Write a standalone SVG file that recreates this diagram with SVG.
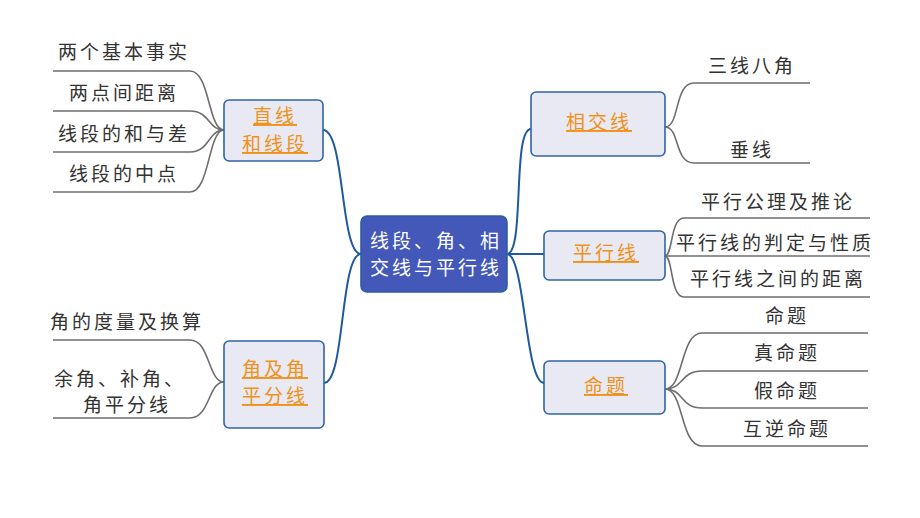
<svg xmlns="http://www.w3.org/2000/svg" width="920" height="518" viewBox="0 0 920 518">
<style>
text{font-family:"Noto Sans CJK SC","Noto Sans",sans-serif;font-size:19px;letter-spacing:3px;text-anchor:middle}
.leaf{fill:#333333}
.lk{fill:none;stroke:#6e6e6e;stroke-width:1.6}
.bl{fill:none;stroke:#1f5a9e;stroke-width:2}
.sub{fill:#e8e9f3;stroke:#2f64a8;stroke-width:1.6}
.subt{fill:#f0921a;text-decoration:underline}
.ctr{fill:#4358b8;stroke:#2c5fa0;stroke-width:1.6}
.ctrt{fill:#ffffff}
</style>
<rect width="920" height="518" fill="#ffffff"/>
<g id="connectors">
<path class="bl" d="M361,254 C340,254 345,130 323,130"/>
<path class="bl" d="M361,254 C340,254 345,383 324,383"/>
<path class="bl" d="M507,254 C525,254 512,129 531,129"/>
<path class="bl" d="M507,254 H544"/>
<path class="bl" d="M507,254 C525,254 525,383 544,383"/>
<path class="lk" d="M224,130 C208,130 210,71 190,71 H53"/>
<path class="lk" d="M224,130 C208,130 210,111 190,111 H53"/>
<path class="lk" d="M224,130 C208,130 210,152 190,152 H53"/>
<path class="lk" d="M224,130 C208,130 210,192 190,192 H53"/>
<path class="lk" d="M224,382 C208,382 210,340 190,340 H53"/>
<path class="lk" d="M224,382 C208,382 210,418 190,418 H53"/>
<path class="lk" d="M665,127 C680,127 674,83 694,83 H810"/>
<path class="lk" d="M665,127 C680,127 674,163 694,163 H810"/>
<path class="lk" d="M665,256 C673,256 670,218 684,218 H870"/>
<path class="lk" d="M665,256 H870"/>
<path class="lk" d="M665,256 C673,256 670,297 684,297 H870"/>
<path class="lk" d="M665,389 C684,389 680,333 702,333 H868"/>
<path class="lk" d="M665,389 C684,389 680,371 702,371 H868"/>
<path class="lk" d="M665,389 C684,389 680,408 702,408 H868"/>
<path class="lk" d="M665,389 C684,389 680,446 702,446 H868"/>
</g>
<g id="center">
<rect class="ctr" x="361" y="216" width="146" height="76" rx="6"/>
<text class="ctrt" x="436" y="248">线段、角、相</text>
<text class="ctrt" x="436" y="275">交线与平行线</text>
</g>
<g id="n-zhixian">
<rect class="sub" x="224" y="100" width="99" height="61" rx="5"/>
<text class="subt" x="275" y="123">直线</text>
<text class="subt" x="275" y="151">和线段</text>
</g>
<g id="n-jiao">
<rect class="sub" x="224" y="341" width="100" height="87" rx="5"/>
<text class="subt" x="275" y="376">角及角</text>
<text class="subt" x="275" y="403">平分线</text>
</g>
<g id="n-xiangjiao">
<rect class="sub" x="531" y="92" width="134" height="64" rx="5"/>
<text class="subt" x="599" y="129">相交线</text>
</g>
<g id="n-pingxing">
<rect class="sub" x="544" y="231" width="121" height="49" rx="5"/>
<text class="subt" x="606" y="260">平行线</text>
</g>
<g id="n-mingti">
<rect class="sub" x="544" y="361" width="121" height="53" rx="5"/>
<text class="subt" x="606" y="393">命题</text>
</g>
<g id="leaves-left">
<text class="leaf" x="124" y="59">两个基本事实</text>
<text class="leaf" x="124" y="100">两点间距离</text>
<text class="leaf" x="124" y="141">线段的和与差</text>
<text class="leaf" x="124" y="181">线段的中点</text>
<text class="leaf" x="127" y="329">角的度量及换算</text>
<text class="leaf" x="120" y="386">余角、补角、</text>
<text class="leaf" x="127" y="412">角平分线</text>
</g>
<g id="leaves-right">
<text class="leaf" x="752" y="73">三线八角</text>
<text class="leaf" x="752" y="157">垂线</text>
<text class="leaf" x="778" y="209">平行公理及推论</text>
<text class="leaf" x="775" y="250">平行线的判定与性质</text>
<text class="leaf" x="778" y="286">平行线之间的距离</text>
<text class="leaf" x="787" y="323">命题</text>
<text class="leaf" x="787" y="360">真命题</text>
<text class="leaf" x="787" y="398">假命题</text>
<text class="leaf" x="787" y="436">互逆命题</text>
</g>
</svg>
